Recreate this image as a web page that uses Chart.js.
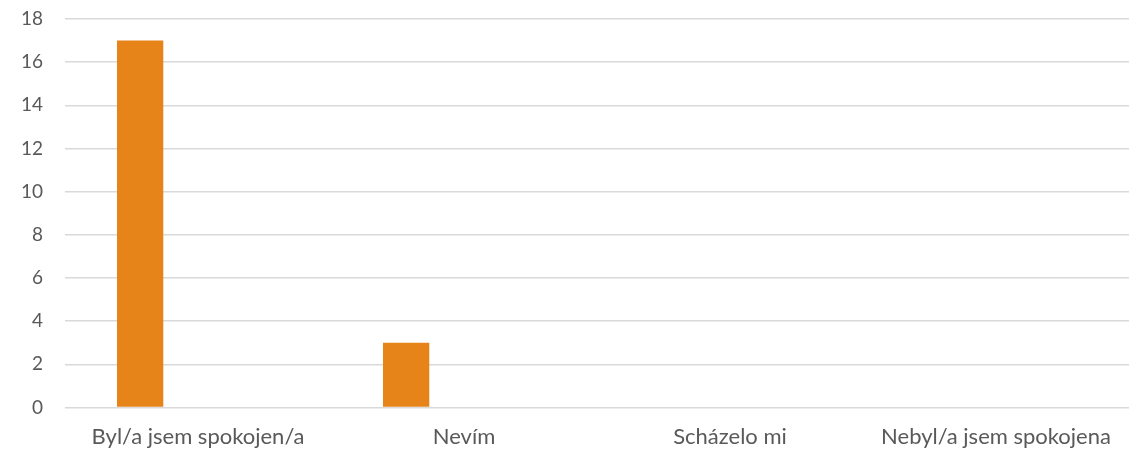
<!DOCTYPE html>
<html>
<head>
<meta charset="utf-8">
<script src="https://cdn.jsdelivr.net/npm/chart.js@4"></script>
<style>
  html, body { margin: 0; padding: 0; background: #fff; }
  #wrap { width: 1129px; height: 451px; }
</style>
</head>
<body>
<div id="wrap"><canvas id="graf"></canvas></div>
<script>
// data grafu
const kategorie = ['Byl/a jsem spokojen/a', 'Nevím', 'Scházelo mi', 'Nebyl/a jsem spokojena'];
const odpovedi = [17, 3, 0, 0];
const prazdnaRada = [null, null, null, null];
const yTicky = [0, 2, 4, 6, 8, 10, 12, 14, 16, 18];

const sedaText = '#595959';

new Chart(document.getElementById('graf'), {
  type: 'bar',
  data: {
    labels: kategorie,
    datasets: [
      { label: 'Odpovědi', data: odpovedi, backgroundColor: '#E6841A', barPercentage: 0.4, categoryPercentage: 0.87 },
      { label: '', data: prazdnaRada, backgroundColor: '#A5A5A5', barPercentage: 0.4, categoryPercentage: 0.87 }
    ]
  },
  options: {
    responsive: true,
    maintainAspectRatio: false,
    animation: false,
    layout: { padding: { top: 19, right: 0, bottom: 0, left: 0 } },
    plugins: { legend: { display: false }, tooltip: { enabled: false } },
    scales: {
      x: {
        grid: { display: false },
        border: { display: false },
        ticks: { color: sedaText, font: { family: 'Lato', size: 22 }, padding: 8, maxRotation: 0, autoSkip: false },
        afterFit: s => { s.height = 43.5; s.paddingLeft = 0; s.paddingRight = 0; }
      },
      y: {
        min: 0,
        max: 18,
        afterBuildTicks: s => { s.ticks = yTicky.map(v => ({ value: v })); },
        grid: { color: '#d9d9d9', lineWidth: 1.5, drawTicks: false },
        border: { display: false },
        ticks: { color: sedaText, font: { family: 'Lato', size: 19 }, padding: 22 },
        afterFit: s => { s.width = 65; s.paddingTop = 0; s.paddingBottom = 0; }
      }
    }
  }
});
</script>
</body>
</html>
